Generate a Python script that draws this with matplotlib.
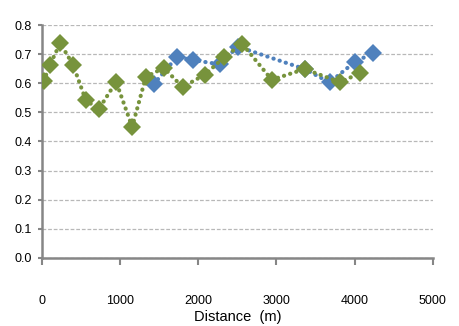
import matplotlib
matplotlib.use("Agg")
import matplotlib.pyplot as plt

# ── Données ───────────────────────────────────────────────────────────────────
dist_green = [25, 100, 235, 400, 560, 725, 950, 1155, 1330, 1560, 1800,
              2085, 2335, 2560, 2940, 3360, 3810, 4065]
val_green = [0.608, 0.662, 0.738, 0.663, 0.543, 0.510, 0.605, 0.450, 0.622,
             0.653, 0.587, 0.630, 0.690, 0.736, 0.612, 0.649, 0.604, 0.634]

dist_blue = [1430, 1725, 1930, 2275, 2505, 3360, 3680, 4000, 4235]
val_blue = [0.597, 0.690, 0.680, 0.665, 0.726, 0.649, 0.603, 0.673, 0.704]

x_ticks = [0, 1000, 2000, 3000, 4000, 5000]
y_ticks = [0.0, 0.1, 0.2, 0.3, 0.4, 0.5, 0.6, 0.7, 0.8]

BLUE = "#4F81BD"
GREEN = "#77933C"
AXIS_GREY = "#868686"

plt.rcParams["font.family"] = ["Liberation Sans", "DejaVu Sans"]

fig = plt.figure(figsize=(4.6, 3.26), dpi=100)
ax = fig.add_axes([0.091, 0.209, 0.850, 0.714])

dots = (0, (0.05, 1.5))
ax.plot(dist_blue, val_blue, color=BLUE, linestyle=dots, linewidth=3.0,
        dash_capstyle="round", marker="D", markersize=9,
        markeredgewidth=0, zorder=3)
ax.plot(dist_green, val_green, color=GREEN, linestyle=dots, linewidth=3.0,
        dash_capstyle="round", marker="D", markersize=9,
        markeredgewidth=0, zorder=4)

ax.set_xlim(0, 5000)
ax.set_ylim(0, 0.8)
ax.set_xticks(x_ticks)
ax.set_yticks(y_ticks)
ax.set_yticklabels([f"{v:.1f}" for v in y_ticks])

ax.grid(axis="y", linestyle=(0, (3, 1.5)), color="#b8b8b8", linewidth=0.9)
ax.set_axisbelow(True)

for side in ("top", "right"):
    ax.spines[side].set_visible(False)
for side in ("left", "bottom"):
    ax.spines[side].set_color(AXIS_GREY)
    ax.spines[side].set_linewidth(1.8)

ax.tick_params(axis="x", direction="out", length=5, width=1.5,
               color=AXIS_GREY, pad=22, labelsize=9)
ax.tick_params(axis="y", direction="out", length=3, width=1.5,
               color=AXIS_GREY, pad=4, labelsize=9)

ax.set_xlabel("Distance  (m)", fontsize=10.5, labelpad=2)

fig.savefig("out.png", dpi=100)
